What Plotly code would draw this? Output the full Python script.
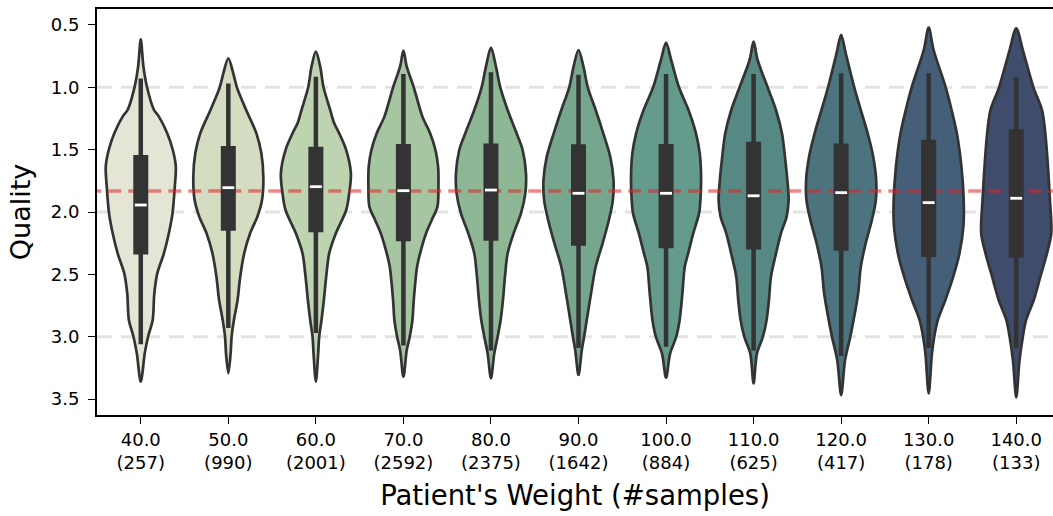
import plotly.graph_objects as go

# Weight bins and their sample counts
weights = ["40.0", "50.0", "60.0", "70.0", "80.0", "90.0", "100.0", "110.0", "120.0", "130.0", "140.0"]
counts = [257, 990, 2001, 2592, 2375, 1642, 884, 625, 417, 178, 133]

# Kernel density profiles per bin: (quality, relative density)
kde_40 = [(0.615, 0), (0.834, 8), (1.0, 19), (1.182, 40), (1.235, 55), (1.369, 80), (1.503, 97), (1.636, 106),
          (1.797, 103), (2.011, 96), (2.171, 85), (2.332, 70), (2.492, 50), (2.652, 41), (2.866, 36),
          (3.0, 22), (3.134, 12), (3.361, 0)]
kde_50 = [(0.767, 0), (0.888, 15), (1.0, 26), (1.182, 54), (1.369, 85), (1.529, 100), (1.717, 106),
          (1.904, 102), (2.037, 88), (2.171, 66), (2.332, 48), (2.519, 36), (2.706, 28), (2.866, 17),
          (3.0, 10), (3.134, 7), (3.294, 0)]
kde_60 = [(0.714, 0), (0.834, 13), (1.0, 23), (1.182, 43), (1.289, 55), (1.369, 70), (1.503, 91),
          (1.690, 105), (1.850, 100), (1.984, 91), (2.171, 60), (2.332, 40), (2.519, 31), (2.706, 24),
          (2.866, 17), (3.0, 10), (3.134, 7), (3.361, 0)]
kde_70 = [(0.706, 0), (0.834, 10), (1.0, 31), (1.102, 42), (1.235, 57), (1.369, 80), (1.503, 96),
          (1.636, 104), (1.797, 105), (1.957, 102), (2.064, 85), (2.171, 68), (2.332, 50), (2.439, 41),
          (2.706, 31), (2.866, 27), (3.0, 19), (3.107, 10), (3.321, 0)]
kde_80 = [(0.682, 0), (0.834, 15), (1.0, 28), (1.182, 50), (1.369, 77), (1.503, 95), (1.690, 105),
          (1.850, 103), (2.011, 90), (2.171, 68), (2.332, 50), (2.519, 42), (2.706, 36), (2.866, 29),
          (3.0, 20), (3.134, 10), (3.334, 0)]
kde_90 = [(0.701, 0), (0.834, 15), (1.0, 28), (1.182, 52), (1.369, 75), (1.556, 96), (1.743, 106),
          (1.904, 104), (2.064, 92), (2.251, 73), (2.439, 52), (2.652, 38), (2.866, 25), (3.0, 17),
          (3.107, 10), (3.307, 0)]
kde_100 = [(0.642, 0), (0.781, 15), (1.0, 38), (1.182, 66), (1.369, 88), (1.529, 99), (1.717, 103),
           (1.904, 101), (2.011, 97), (2.171, 80), (2.332, 65), (2.439, 55), (2.652, 48), (2.866, 40),
           (3.0, 30), (3.134, 12), (3.329, 0)]
kde_110 = [(0.634, 0), (0.781, 12), (1.0, 42), (1.182, 67), (1.369, 85), (1.556, 94), (1.770, 102),
           (1.904, 105), (2.037, 99), (2.171, 82), (2.358, 65), (2.519, 52), (2.706, 46), (2.866, 39),
           (3.0, 28), (3.134, 10), (3.374, 0)]
kde_120 = [(0.580, 0), (0.727, 14), (1.0, 40), (1.182, 60), (1.369, 81), (1.556, 98), (1.743, 107),
           (1.904, 106), (2.064, 94), (2.251, 75), (2.439, 60), (2.652, 52), (2.866, 38), (3.0, 28),
           (3.187, 12), (3.468, 0)]
kde_130 = [(0.521, 0), (0.701, 15), (1.0, 52), (1.182, 70), (1.369, 86), (1.636, 100), (1.904, 107),
           (2.118, 106), (2.332, 94), (2.519, 75), (2.706, 51), (2.866, 28), (3.0, 17), (3.134, 10),
           (3.455, 0)]
kde_140 = [(0.527, 0), (0.701, 20), (1.0, 52), (1.182, 78), (1.369, 88), (1.636, 96), (1.904, 102),
           (2.171, 106), (2.332, 93), (2.519, 73), (2.706, 53), (2.866, 30), (3.0, 20), (3.187, 10),
           (3.487, 0)]
profiles = [kde_40, kde_50, kde_60, kde_70, kde_80, kde_90, kde_100, kde_110, kde_120, kde_130, kde_140]

# Box statistics per bin
q1 = [1.543, 1.470, 1.476, 1.455, 1.450, 1.457, 1.455, 1.436, 1.450, 1.420, 1.337]
q3 = [2.340, 2.150, 2.163, 2.235, 2.230, 2.270, 2.290, 2.300, 2.310, 2.360, 2.364]
medians = [1.944, 1.805, 1.797, 1.829, 1.824, 1.850, 1.850, 1.870, 1.845, 1.925, 1.890]
whisker_lo = [0.930, 0.970, 0.915, 0.893, 0.880, 0.900, 0.893, 0.893, 0.888, 0.888, 0.920]
whisker_hi = [3.060, 2.930, 2.970, 3.070, 3.110, 3.090, 3.080, 3.110, 3.155, 3.090, 3.090]

overall_mean = 1.832
reference_levels = [1.0, 2.0, 3.0]
y_ticks = [0.5, 1.0, 1.5, 2.0, 2.5, 3.0, 3.5]

colors = ["#e5e5d5", "#d4dcc2", "#bed3b0", "#a6c6a2", "#8db795", "#76a78e",
          "#659b8d", "#568884", "#4b747f", "#455f78", "#3f4c6c"]

EDGE = "#333333"
HALF_WIDTH = 0.4
X_MAX = 10.42

fig = go.Figure()

# Violin bodies
for i, prof in enumerate(profiles):
    qs = [p[0] for p in prof]
    ws = [p[1] for p in prof]
    peak = max(ws)
    hw = [HALF_WIDTH * w / peak for w in ws]
    xs = [i + h for h in hw] + [i - h for h in reversed(hw)][1:]
    ys = qs + list(reversed(qs))[1:]
    fig.add_trace(go.Scatter(
        x=xs, y=ys, mode="lines", fill="toself", fillcolor=colors[i],
        line=dict(color=EDGE, width=2.7, shape="spline", smoothing=0.9),
        hoverinfo="skip", showlegend=False))

# Overall mean line
fig.add_trace(go.Scatter(
    x=[-0.6, X_MAX + 0.1], y=[overall_mean, overall_mean], mode="lines",
    line=dict(color="rgba(228,35,35,0.55)", width=3.5, dash="13px,7px"),
    hoverinfo="skip", showlegend=False))

# Whiskers, boxes and medians
wx, wy, bx, by, mx, my = [], [], [], [], [], []
for i in range(len(weights)):
    wx += [i, i, None]
    wy += [whisker_lo[i], whisker_hi[i], None]
    bx += [i, i, None]
    by += [q1[i], q3[i], None]
    mx += [i - 0.068, i + 0.068, None]
    my += [medians[i], medians[i], None]

fig.add_trace(go.Scatter(x=wx, y=wy, mode="lines", line=dict(color=EDGE, width=4.5),
                         hoverinfo="skip", showlegend=False))
fig.add_trace(go.Scatter(x=bx, y=by, mode="lines", line=dict(color=EDGE, width=15),
                         hoverinfo="skip", showlegend=False))
fig.add_trace(go.Scatter(x=mx, y=my, mode="lines", line=dict(color="white", width=2.8),
                         hoverinfo="skip", showlegend=False))

# Reference grid levels behind the violins
for lvl in reference_levels:
    fig.add_shape(type="line", xref="paper", x0=0, x1=1, yref="y", y0=lvl, y1=lvl,
                  line=dict(color="#e3e3e3", width=3, dash="15px,9px"), layer="below")

tick_text = [f"{w}<br>({c})" for w, c in zip(weights, counts)]

fig.update_layout(
    width=1053, height=516,
    margin=dict(l=97, r=0, t=9, b=101),
    plot_bgcolor="white", paper_bgcolor="white",
    font=dict(family="DejaVu Sans", color="black", size=18),
    xaxis=dict(
        range=[-0.5, X_MAX], tickmode="array", tickvals=list(range(len(weights))),
        ticktext=tick_text, ticks="outside", ticklen=7, tickwidth=1.4, tickcolor="black",
        showline=True, linecolor="black", linewidth=2, mirror=True,
        showgrid=False, zeroline=False, tickfont=dict(size=18),
        title=dict(text="Patient's Weight (#samples)", font=dict(size=27.5), standoff=14),
    ),
    yaxis=dict(
        range=[3.628, 0.372], tickmode="array", tickvals=y_ticks,
        ticktext=[f"{v:.1f}" for v in y_ticks], ticks="outside", ticklen=7, tickwidth=1.4,
        tickcolor="black", showline=True, linecolor="black", linewidth=2, mirror=False,
        showgrid=False, zeroline=False, tickfont=dict(size=18), ticklabelstandoff=5,
        title=dict(text="Quality", font=dict(size=27), standoff=12),
    ),
)

fig.write_html("out.html")
